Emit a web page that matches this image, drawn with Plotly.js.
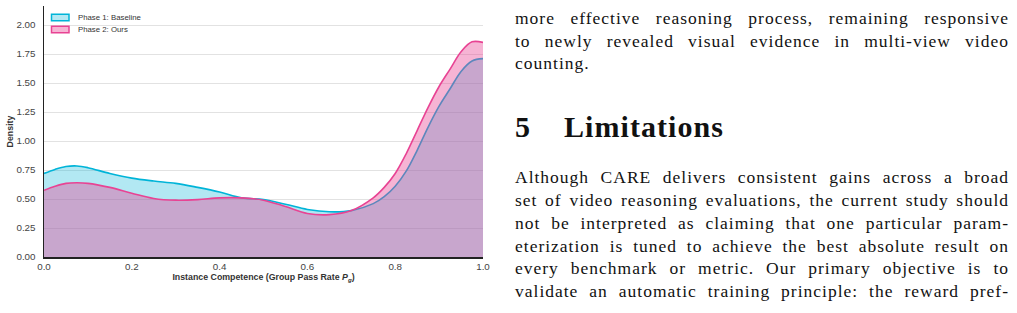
<!DOCTYPE html>
<html><head><meta charset="utf-8">
<script src="https://cdn.plot.ly/plotly-3.0.1.min.js"></script>
<style>html,body{margin:0;padding:0;background:#fff;overflow:hidden}#chart{width:1017px;height:313px}</style>
</head><body><div id="chart"></div>
<script>
// ---- data ----
const competence = [0, 0.025, 0.05, 0.075, 0.1, 0.15, 0.2, 0.25, 0.3, 0.35, 0.4, 0.45, 0.5, 0.55, 0.6, 0.65, 0.7, 0.75, 0.775, 0.8, 0.825, 0.85, 0.875, 0.9, 0.925, 0.95, 0.975, 1.0];
const densityBaseline = [0.72, 0.755, 0.78, 0.785, 0.77, 0.72, 0.68, 0.655, 0.635, 0.60, 0.56, 0.51, 0.495, 0.455, 0.41, 0.39, 0.40, 0.46, 0.52, 0.61, 0.74, 0.92, 1.12, 1.30, 1.45, 1.60, 1.69, 1.71];
const densityOurs = [0.575, 0.61, 0.635, 0.64, 0.635, 0.60, 0.55, 0.505, 0.49, 0.495, 0.51, 0.51, 0.49, 0.435, 0.375, 0.365, 0.40, 0.51, 0.60, 0.72, 0.89, 1.09, 1.29, 1.47, 1.62, 1.77, 1.855, 1.85];
const seriesNames = ['Phase 1: Baseline', 'Phase 2: Ours'];
const xTickVals = [0, 0.2, 0.4, 0.6, 0.8, 1.0];
const yTickVals = [0, 0.25, 0.5, 0.75, 1.0, 1.25, 1.5, 1.75, 2.0];
const xTitle = 'Instance Competence (Group Pass Rate <i>P</i><sub><i>g</i></sub>)';
const yTitle = 'Density';
const textTop = ['more effective reasoning process, remaining responsive', 'to newly revealed visual evidence in multi-view video', 'counting.'];
const headingNum = '5';
const headingText = 'Limitations';
const textPara = ['Although CARE delivers consistent gains across a broad', 'set of video reasoning evaluations, the current study should', 'not be interpreted as claiming that one particular param-', 'eterization is tuned to achieve the best absolute result on', 'every benchmark or metric. Our primary objective is to', 'validate an automatic training principle: the reward pref-'];

// ---- styling ----
const cBase = '#00b4d8', cOurs = '#e84393';
const fBase = 'rgba(0,180,216,0.3)', fOurs = 'rgba(232,67,147,0.4)';
const L = 44, R = 483, T = 6, B = 257, W = 1017, H = 313;
const fx = p => (p - L) / (R - L);
const fy = p => (B - p) / (B - T);

const traces = [
  {x: competence, y: densityBaseline, name: seriesNames[0], type: 'scatter', mode: 'lines', fill: 'tozeroy',
   fillcolor: fBase, line: {color: cBase, width: 1.6, shape: 'spline', smoothing: 1}, showlegend: false},
  {x: competence, y: densityOurs, name: seriesNames[1], type: 'scatter', mode: 'lines', fill: 'tozeroy',
   fillcolor: fOurs, line: {color: cOurs, width: 1.6, shape: 'spline', smoothing: 1}, showlegend: false}
];

const ann = [];
const shapes = [];
// custom legend
[[cBase, fBase, 17.5], [cOurs, fOurs, 29.5]].forEach((s, i) => {
  shapes.push({type: 'rect', xref: 'paper', yref: 'paper', x0: fx(51.5), x1: fx(69), y0: fy(s[2] - 3.3), y1: fy(s[2] + 3.3),
    line: {color: s[0], width: 1.5}, fillcolor: s[1]});
  ann.push({xref: 'paper', yref: 'paper', x: fx(75.5), y: fy(s[2]), xanchor: 'left', yanchor: 'middle', showarrow: false,
    text: seriesNames[i], font: {family: 'Liberation Sans, Arial, sans-serif', size: 7.8, color: '#333'}});
});

const serif = 'Liberation Serif, Times New Roman, serif';
const justify = [];
const addLine = (txt, left, base, size, bold, width, ls) => {
  ann.push({xref: 'paper', yref: 'paper', x: fx(left), y: fy(base - 0.3 * size), xanchor: 'left', yanchor: 'middle',
    showarrow: false, borderpad: 0, text: bold ? '<b>' + txt + '</b>' : txt,
    font: {family: serif, size: size, color: '#111'}});
  justify.push([ann.length - 1, left, width, txt, ls]);
};
textTop.forEach((t, i) => addLine(t, 514, 23 + 22.8 * i, 17.5, false, i < 2 ? 494 : 0, 1.0));
addLine(headingNum, 514, 135.5, 30, true, 0, 0);
addLine(headingText, 563, 135.5, 30, true, 159, 0);
textPara.forEach((t, i) => addLine(t, 514, 182.4 + 22.8 * i, 17.5, false, 494, 1.0));

const layout = {
  width: W, height: H, margin: {l: L, r: W - R, t: T, b: H - B, pad: 0},
  paper_bgcolor: '#fff', plot_bgcolor: '#fff', showlegend: false,
  font: {family: 'Liberation Sans, Arial, sans-serif', color: '#333'},
  xaxis: {range: [0, 1], tickvals: xTickVals, tickformat: '.1f', showgrid: false, zeroline: false,
    showline: true, linecolor: '#222', linewidth: 1.5, ticks: '', ticklabelstandoff: 0,
    tickfont: {size: 9.8, color: '#444'},
    title: {text: xTitle, font: {size: 8.8, color: '#333', weight: 'bold'}, standoff: 2}},
  yaxis: {range: [0, (B - T) / 116], tickvals: yTickVals, tickformat: '.2f', showgrid: true, gridcolor: '#e2e2e2', gridwidth: 1,
    zeroline: false, showline: true, linecolor: '#222', linewidth: 1.5, ticks: '', ticklabelstandoff: 5,
    tickfont: {size: 9.8, color: '#444'},
    title: {text: yTitle, font: {size: 8.8, color: '#333', weight: 'bold'}, standoff: 1}},
  shapes: shapes, annotations: ann
};

Plotly.newPlot('chart', traces, layout, {displayModeBar: false, staticPlot: true}).then(gd => {
  justify.forEach(([idx, left, width, txt, ls]) => {
    const g = gd.querySelector('g.annotation[data-index="' + idx + '"]');
    if (!g) return;
    const t = g.querySelector('text.annotation-text');
    if (!t) return;
    const bb = t.getBBox();
    t.setAttribute('text-anchor', 'start');
    t.setAttribute('x', bb.x);
    if (ls) t.style.letterSpacing = ls + 'px';
    if (!width) return;
    const nSp = (txt.match(/ /g) || []).length;
    if (nSp > 0) {
      const w1 = t.getBBox().width;
      t.style.wordSpacing = Math.max(0, (width - w1) / nSp).toFixed(2) + 'px';
    } else {
      t.setAttribute('textLength', width);
      t.setAttribute('lengthAdjust', 'spacing');
    }
  });
});
</script></body></html>
